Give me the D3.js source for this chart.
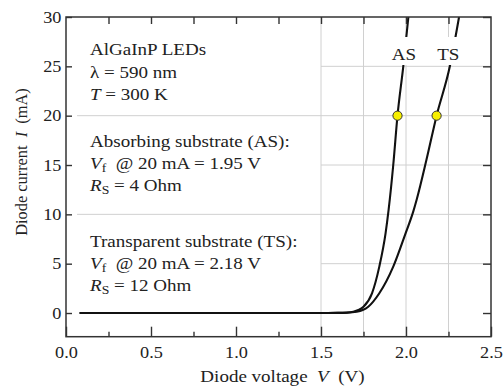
<!DOCTYPE html>
<html>
<head>
<meta charset="utf-8">
<script src="https://cdn.jsdelivr.net/npm/d3@7/dist/d3.min.js"></script>
<style>
  html, body { margin: 0; padding: 0; background: #fff; }
  svg { display: block; }
  text { font-family: "Liberation Serif", "Times New Roman", serif; fill: #222; white-space: pre; }
</style>
</head>
<body>
<svg id="chart" width="504" height="388"></svg>
<script>
// ---------- data ----------
const asVoltage = [0.08, 1.50, 1.60, 1.65, 1.69, 1.72, 1.75, 1.80, 1.843, 1.88, 1.898, 1.925, 1.95, 1.984, 2.014];
const asCurrent = [0, 0, 0.01, 0.04, 0.13, 0.30, 0.64, 2.0, 4.7, 8.1, 10.5, 15.0, 20, 25, 30];
const tsVoltage = [0.08, 1.50, 1.60, 1.65, 1.71, 1.745, 1.778, 1.843, 1.925, 1.998, 2.043, 2.063, 2.12, 2.18, 2.258, 2.312];
const tsCurrent = [0, 0, 0.01, 0.03, 0.13, 0.30, 0.64, 2.0, 4.7, 8.1, 10.3, 11.5, 15.5, 20, 25, 30];
const markerVoltage = [1.95, 2.18];
const markerCurrent = [20, 20];
const curveLabels = ["AS", "TS"];
const curveLabelVoltage = [2.0, 2.29];

const xMajorTicks = [0, 0.5, 1.0, 1.5, 2.0, 2.5];
const xMinorTicks = [0.25, 0.75, 1.25, 1.75, 2.25];
const xTopTicks = [0.25, 0.5, 0.75, 1.0, 1.25, 1.5, 1.75, 2.0, 2.25];
const yTicks = [0, 5, 10, 15, 20, 25, 30];
const gridVerticals = [1.5, 1.75, 2.0, 2.25];
const gridShortH = [5, 15, 25];
const gridLongH = [10, 20];

const textBlocks = [
  [["AlGaInP LEDs"], ["λ = 590 nm"], [["T", "i"], [" = 300 K", ""]]],
  [["Absorbing substrate (AS):"], [["V", "i"], ["f", "sub"], ["  @ 20 mA = 1.95 V", ""]], [["R", "i"], ["S", "sub"], [" = 4 Ohm", ""]]],
  [["Transparent substrate (TS):"], [["V", "i"], ["f", "sub"], ["  @ 20 mA = 2.18 V", ""]], [["R", "i"], ["S", "sub"], [" = 12 Ohm", ""]]]
];

// ---------- layout ----------
const W = 504, H = 388;
const m = { left: 66, top: 17, right: 13, bottom: 51.3 };
const SX = 1.14;   // horizontal stretch of the lettering
const FS = 16.7;

const svg = d3.select("#chart");
const x = d3.scaleLinear().domain([0, 2.5]).range([m.left, W - m.right]);
const y = d3.scaleLinear().domain([-2.4, 30]).range([H - m.bottom, m.top]);

// grid
const grid = svg.append("g").attr("stroke", "#d0d0d0").attr("stroke-width", 1);
grid.selectAll("line.v").data(gridVerticals).join("line")
  .attr("x1", d => x(d)).attr("x2", d => x(d)).attr("y1", y(30)).attr("y2", y(-2.4));
grid.selectAll("line.hs").data(gridShortH).join("line")
  .attr("x1", x(1.5)).attr("x2", x(2.5)).attr("y1", d => y(d)).attr("y2", d => y(d));
grid.selectAll("line.hl").data(gridLongH).join("line")
  .attr("x1", x(0.065)).attr("x2", x(2.5)).attr("y1", d => y(d)).attr("y2", d => y(d));

// curves
svg.append("clipPath").attr("id", "clip").append("rect")
  .attr("x", x(0)).attr("y", y(30)).attr("width", x(2.5) - x(0)).attr("height", y(-2.4) - y(30));
const line = d3.line().x(d => x(d[0])).y(d => y(d[1])).curve(d3.curveMonotoneX);
const asData = asVoltage.map((v, i) => [v, asCurrent[i]]);
const tsData = tsVoltage.map((v, i) => [v, tsCurrent[i]]);
const curves = svg.append("g").attr("clip-path", "url(#clip)");
[asData, tsData].forEach(dat => {
  curves.append("path").datum(dat).attr("d", line)
    .attr("fill", "none").attr("stroke", "#111").attr("stroke-width", 2.1);
});

// curve labels with white background
const lab = svg.append("g");
curveLabels.forEach((t, i) => {
  const cx = x(curveLabelVoltage[i]) - (i === 0 ? 2 : 7);
  lab.append("rect").attr("x", cx - 14).attr("y", 37).attr("width", 28).attr("height", 28).attr("fill", "#fff");
  lab.append("text").attr("transform", `translate(${cx},60) scale(${SX},1)`)
    .attr("text-anchor", "middle").attr("font-size", FS).text(t);
});

// markers
svg.append("g").selectAll("circle").data(markerVoltage).join("circle")
  .attr("cx", d => x(d)).attr("cy", (d, i) => y(markerCurrent[i])).attr("r", 4.6)
  .attr("fill", "#f7ef00").attr("stroke", "#333").attr("stroke-width", 1);

// text blocks
const blockX = 90;
const blockY = [[55, 77.5, 100], [146.7, 168.5, 190.7], [246.7, 268.5, 290.7]];
textBlocks.forEach((blk, bi) => {
  blk.forEach((ln, li) => {
    const t = svg.append("text").attr("transform", `translate(${blockX},${blockY[bi][li]}) scale(${SX},1)`)
      .attr("font-size", FS);
    if (typeof ln[0] === "string") { t.text(ln[0]); return; }
    ln.forEach(([s, st]) => {
      const sp = t.append("tspan").text(s);
      if (st === "i") sp.attr("font-style", "italic");
      if (st === "sub") sp.attr("font-size", FS * 0.72).attr("baseline-shift", "-30%");
    });
  });
});

// axes
const axColor = "#333";
function styleAxis(g) {
  g.select(".domain").remove();
  g.selectAll(".tick line").attr("stroke", axColor).attr("stroke-width", 1.4);
  g.selectAll(".tick text").attr("fill", "#2a2a2a").attr("font-size", 16);
}
const fmt = d3.format(".1f");
const gb = svg.append("g").attr("transform", `translate(0,${y(-2.4)})`)
  .call(d3.axisBottom(x).tickValues(xMajorTicks).tickFormat(fmt).tickSizeInner(-10).tickSizeOuter(0).tickPadding(10));
styleAxis(gb);
gb.selectAll(".tick text").attr("transform", `scale(${SX},1)`);
const gbm = svg.append("g").attr("transform", `translate(0,${y(-2.4)})`)
  .call(d3.axisBottom(x).tickValues(xMinorTicks).tickFormat("").tickSizeInner(-5).tickSizeOuter(0));
styleAxis(gbm);
const gt = svg.append("g").attr("transform", `translate(0,${y(30)})`)
  .call(d3.axisTop(x).tickValues(xTopTicks).tickFormat("").tickSizeInner(-7).tickSizeOuter(0));
styleAxis(gt);
const gl = svg.append("g").attr("transform", `translate(${x(0)},0)`)
  .call(d3.axisLeft(y).tickValues(yTicks).tickFormat(d3.format("d")).tickSizeInner(-6).tickSizeOuter(0).tickPadding(4));
styleAxis(gl);
gl.selectAll(".tick text").attr("transform", `scale(${SX},1)`);
const gr = svg.append("g").attr("transform", `translate(${x(2.5)},0)`)
  .call(d3.axisRight(y).tickValues(yTicks).tickFormat("").tickSizeInner(-8).tickSizeOuter(0));
styleAxis(gr);

// frame
svg.append("rect").attr("x", x(0)).attr("y", y(30)).attr("width", x(2.5) - x(0)).attr("height", y(-2.4) - y(30))
  .attr("fill", "none").attr("stroke", axColor).attr("stroke-width", 1.5);

// axis titles
const xt = svg.append("text").attr("transform", `translate(${(x(0) + x(2.5)) / 2 + 4},382) scale(${SX},1)`)
  .attr("text-anchor", "middle").attr("font-size", FS);
xt.append("tspan").text("Diode voltage  ");
xt.append("tspan").attr("font-style", "italic").text("V");
xt.append("tspan").text("  (V)");

const yt = svg.append("text").attr("transform", `translate(27,162) rotate(-90) scale(0.98,1)`)
  .attr("text-anchor", "middle").attr("font-size", FS);
yt.append("tspan").text("Diode current  ");
yt.append("tspan").attr("font-style", "italic").text("I");
yt.append("tspan").text("  (mA)");
</script>
</body>
</html>
